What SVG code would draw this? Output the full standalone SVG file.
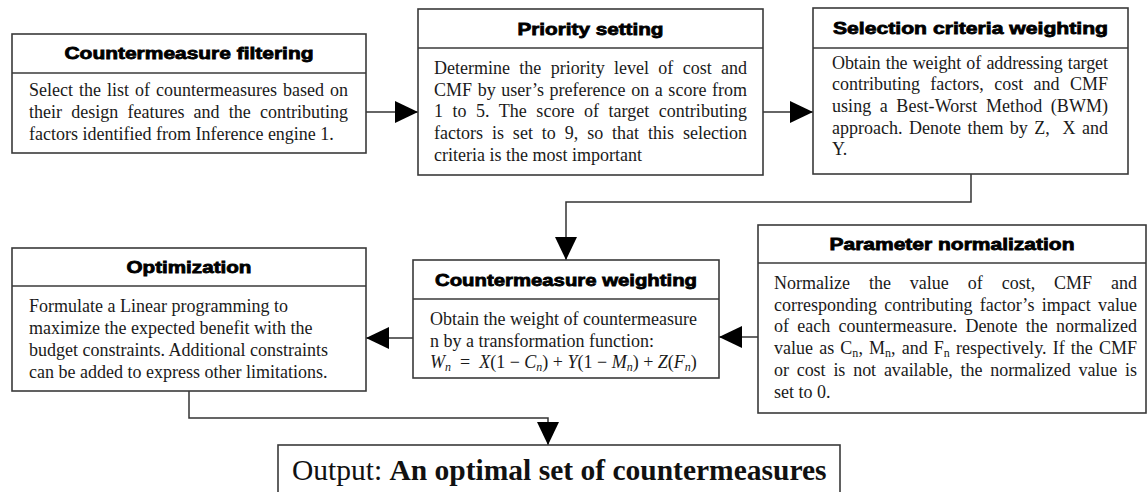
<svg xmlns="http://www.w3.org/2000/svg" width="1148" height="492" viewBox="0 0 1148 492">
  <style>
    .box { fill: #ffffff; stroke: #3a3a3a; stroke-width: 1.6; }
    .rule { stroke: #3a3a3a; stroke-width: 1.6; }
    .title { font-family: "Liberation Sans", Arial, sans-serif; font-weight: bold; font-size: 17px; fill: #000; stroke: #000; stroke-width: 0.8; text-anchor: middle; }
    .body { font-family: "Liberation Serif", "Times New Roman", serif; font-size: 18px; fill: #1a1a1a; }
    .math { font-family: "Liberation Serif", "Times New Roman", serif; font-size: 18px; fill: #1a1a1a; }
    .it { font-style: italic; }
    .sub { font-size: 12px; }
    .conn { fill: none; stroke: #333333; stroke-width: 1.5; }
    .out { font-family: "Liberation Serif", "Times New Roman", serif; font-size: 29.5px; fill: #111; }
  </style>
  <defs>
    <marker id="ah" markerUnits="userSpaceOnUse" markerWidth="23" markerHeight="22" refX="23" refY="11" orient="auto">
      <path d="M0,0 L23,11 L0,22 z" fill="#000"/>
    </marker>
  </defs>

  <rect width="1148" height="492" fill="#ffffff"/>

  <!-- connectors -->
  <g id="connectors">
    <line class="conn" x1="366" y1="112" x2="418" y2="112" marker-end="url(#ah)"/>
    <line class="conn" x1="763" y1="112" x2="813" y2="112" marker-end="url(#ah)"/>
    <polyline class="conn" points="971,174 971,202 566,202 566,260" marker-end="url(#ah)"/>
    <line class="conn" x1="758" y1="337" x2="719" y2="337" marker-end="url(#ah)"/>
    <line class="conn" x1="413" y1="338" x2="366" y2="338" marker-end="url(#ah)"/>
    <polyline class="conn" points="189,391 189,418 548,418 548,445" marker-end="url(#ah)"/>
  </g>

  <!-- Countermeasure filtering -->
  <g id="filtering">
    <rect class="box" x="12" y="34" width="354" height="119"/>
    <line class="rule" x1="12" y1="73" x2="366" y2="73"/>
    <text class="title" x="189" y="59" textLength="249" lengthAdjust="spacingAndGlyphs">Countermeasure filtering</text>
    <text class="body" x="29" y="96" word-spacing="1.5" textLength="319" lengthAdjust="spacing">Select the list of countermeasures based on</text>
    <text class="body" x="29" y="118" word-spacing="4.7" textLength="319" lengthAdjust="spacing">their design features and the contributing</text>
    <text class="body" x="29" y="139.5">factors identified from Inference engine 1.</text>
  </g>

  <!-- Priority setting -->
  <g id="priority">
    <rect class="box" x="418" y="9" width="345" height="166"/>
    <line class="rule" x1="418" y1="48" x2="763" y2="48"/>
    <text class="title" x="590.5" y="34.5" textLength="146" lengthAdjust="spacingAndGlyphs">Priority setting</text>
    <text class="body" x="434" y="74" word-spacing="4.8" textLength="313" lengthAdjust="spacing">Determine the priority level of cost and</text>
    <text class="body" x="434" y="95.5" word-spacing="1.1" textLength="313" lengthAdjust="spacing">CMF by user’s preference on a score from</text>
    <text class="body" x="434" y="117" word-spacing="5" textLength="313" lengthAdjust="spacing">1 to 5. The score of target contributing</text>
    <text class="body" x="434" y="139" word-spacing="4.4" textLength="313" lengthAdjust="spacing">factors is set to 9, so that this selection</text>
    <text class="body" x="434" y="160.5">criteria is the most important</text>
  </g>

  <!-- Selection criteria weighting -->
  <g id="criteria">
    <rect class="box" x="813" y="8" width="315" height="166"/>
    <line class="rule" x1="813" y1="48" x2="1128" y2="48"/>
    <text class="title" x="970.5" y="34" textLength="275" lengthAdjust="spacingAndGlyphs">Selection criteria weighting</text>
    <text class="body" x="832" y="68.5" word-spacing="0.8" textLength="276" lengthAdjust="spacing">Obtain the weight of addressing target</text>
    <text class="body" x="832" y="90" word-spacing="5.9" textLength="276" lengthAdjust="spacing">contributing factors, cost and CMF</text>
    <text class="body" x="832" y="111.5" word-spacing="4" textLength="276" lengthAdjust="spacing">using a Best-Worst Method (BWM)</text>
    <text class="body" x="832" y="133.5" word-spacing="1.9" textLength="276" lengthAdjust="spacing" xml:space="preserve">approach. Denote them by Z,  X and</text>
    <text class="body" x="832" y="155">Y.</text>
  </g>

  <!-- Optimization -->
  <g id="optimization">
    <rect class="box" x="12" y="248" width="354" height="143"/>
    <line class="rule" x1="12" y1="286" x2="366" y2="286"/>
    <text class="title" x="189" y="273" textLength="125" lengthAdjust="spacingAndGlyphs">Optimization</text>
    <text class="body" x="29" y="311.5">Formulate a Linear programming to</text>
    <text class="body" x="29" y="333.5">maximize the expected benefit with the</text>
    <text class="body" x="29" y="355.5">budget constraints. Additional constraints</text>
    <text class="body" x="29" y="377.5">can be added to express other limitations.</text>
  </g>

  <!-- Countermeasure weighting -->
  <g id="weighting">
    <rect class="box" x="413" y="260" width="306" height="118"/>
    <line class="rule" x1="413" y1="299" x2="719" y2="299"/>
    <text class="title" x="566" y="285.5" textLength="262" lengthAdjust="spacingAndGlyphs">Countermeasure weighting</text>
    <text class="body" x="430" y="324.5">Obtain the weight of countermeasure</text>
    <text class="body" x="430" y="347">n by a transformation function:</text>
    <text class="math" x="430" y="368" xml:space="preserve"><tspan class="it">W</tspan><tspan class="it sub" dy="3">n</tspan><tspan dy="-3">  =  </tspan><tspan class="it">X</tspan>(1 − <tspan class="it">C</tspan><tspan class="it sub" dy="3">n</tspan><tspan dy="-3">) + </tspan><tspan class="it">Y</tspan>(1 − <tspan class="it">M</tspan><tspan class="it sub" dy="3">n</tspan><tspan dy="-3">) + </tspan><tspan class="it">Z</tspan>(<tspan class="it">F</tspan><tspan class="it sub" dy="3">n</tspan><tspan dy="-3">)</tspan></text>
  </g>

  <!-- Parameter normalization -->
  <g id="normalization">
    <rect class="box" x="758" y="225" width="388" height="188"/>
    <line class="rule" x1="758" y1="263" x2="1146" y2="263"/>
    <text class="title" x="952" y="250" textLength="245" lengthAdjust="spacingAndGlyphs">Parameter normalization</text>
    <text class="body" x="774" y="288.5" word-spacing="14.4" textLength="363" lengthAdjust="spacing">Normalize the value of cost, CMF and</text>
    <text class="body" x="774" y="310.5" word-spacing="2.75" textLength="363" lengthAdjust="spacing">corresponding contributing factor’s impact value</text>
    <text class="body" x="774" y="332" word-spacing="3.8" textLength="363" lengthAdjust="spacing">of each countermeasure. Denote the normalized</text>
    <text class="body" x="774" y="354" word-spacing="1.6" textLength="363" lengthAdjust="spacing">value as C<tspan class="sub" dy="3">n</tspan><tspan dy="-3">, M</tspan><tspan class="sub" dy="3">n</tspan><tspan dy="-3">, and F</tspan><tspan class="sub" dy="3">n</tspan><tspan dy="-3"> respectively. If the CMF</tspan></text>
    <text class="body" x="774" y="375.5" word-spacing="3.5" textLength="363" lengthAdjust="spacing">or cost is not available, the normalized value is</text>
    <text class="body" x="774" y="398">set to 0.</text>
  </g>

  <!-- Output -->
  <g id="output">
    <rect class="box" x="278" y="445" width="562" height="60"/>
    <text class="out" x="292" y="480">Output: <tspan font-weight="bold">An optimal set of countermeasures</tspan></text>
  </g>
</svg>
